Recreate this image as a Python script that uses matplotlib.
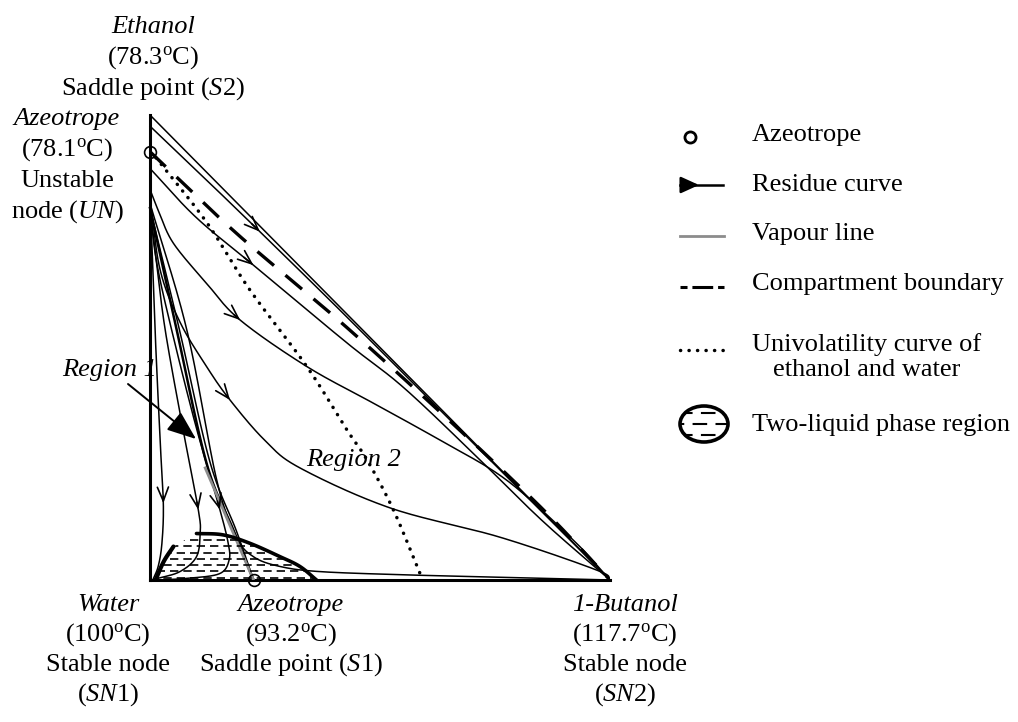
import numpy as np
import matplotlib
matplotlib.use('Agg')
import matplotlib.pyplot as plt
from matplotlib.patches import Polygon, Ellipse

plt.rcParams['font.family'] = ['Liberation Serif', 'DejaVu Serif']
plt.rcParams['mathtext.fontset'] = 'custom'
plt.rcParams['mathtext.rm'] = 'Liberation Serif'
plt.rcParams['mathtext.it'] = 'Liberation Serif:italic'

# composition coordinates: x = 1-butanol fraction, y = ethanol fraction
tri_x = [0.0, 1.0, 0.0]
tri_y = [0.0, 0.0, 1.0]

azeo_x = [0.0, 0.225]
azeo_y = [0.921, 0.0]

curve_a_x = [0.0, 0.123, 0.239, 0.40, 0.55, 0.70, 0.85, 1.0]
curve_a_y = [0.976, 0.860, 0.749, 0.593, 0.445, 0.297, 0.149, 0.0]

curve_b_x = [0.0, 0.10, 0.225, 0.428, 0.55, 0.70, 0.85, 1.0]
curve_b_y = [0.885, 0.78, 0.677, 0.51, 0.415, 0.275, 0.13, 0.0]

curve_c_x = [0.0, 0.02, 0.051, 0.123, 0.196, 0.341, 0.486, 0.630, 0.775, 0.92, 1.0]
curve_c_y = [0.84, 0.79, 0.724, 0.638, 0.559, 0.459, 0.380, 0.301, 0.215, 0.086, 0.0]

curve_d_x = [0.0, 0.022, 0.065, 0.123, 0.174, 0.25, 0.326, 0.522, 0.761, 0.972, 1.0]
curve_d_y = [0.82, 0.667, 0.555, 0.459, 0.387, 0.30, 0.241, 0.155, 0.092, 0.021, 0.0]

curve_e1_x = [0.0, 0.011, 0.022, 0.029, 0.026, 0.018, 0.006]
curve_e1_y = [0.83, 0.538, 0.30, 0.165, 0.08, 0.03, 0.0]

curve_e2_x = [0.0, 0.012, 0.033, 0.072, 0.105, 0.109, 0.101, 0.065, 0.015]
curve_e2_y = [0.80, 0.70, 0.538, 0.323, 0.151, 0.101, 0.05, 0.018, 0.003]

curve_e3_x = [0.0, 0.015, 0.047, 0.10, 0.152, 0.170, 0.172, 0.152, 0.087, 0.02]
curve_e3_y = [0.795, 0.68, 0.538, 0.33, 0.151, 0.079, 0.043, 0.014, 0.004, 0.0]

sep_x = [0.0, 0.058, 0.123, 0.181, 0.225]
sep_y = [0.80, 0.538, 0.251, 0.108, 0.0]
sep2_x = [0.0, 0.064, 0.130, 0.188, 0.225]
sep2_y = [0.80, 0.538, 0.255, 0.105, 0.0]

curve_e5_x = [0.0, 0.08, 0.145, 0.188, 0.225, 0.283, 0.37, 0.558, 0.80, 1.0]
curve_e5_y = [0.81, 0.538, 0.215, 0.093, 0.050, 0.029, 0.018, 0.011, 0.005, 0.0]

boundary_x = [0.0, 0.07, 0.20, 0.413, 0.63, 0.848, 1.0]
boundary_y = [0.921, 0.855, 0.735, 0.556, 0.362, 0.158, 0.0]

univol_x = [0.0, 0.022, 0.124, 0.217, 0.341, 0.428, 0.472, 0.529, 0.587]
univol_y = [0.921, 0.897, 0.768, 0.624, 0.459, 0.323, 0.258, 0.151, 0.014]

vapour_x = [0.12, 0.225]
vapour_y = [0.241, 0.0]

lle_left_x = [0.012, 0.03, 0.051]
lle_left_y = [0.0, 0.04, 0.072]
lle_right_x = [0.101, 0.159, 0.217, 0.283, 0.326, 0.362]
lle_right_y = [0.100, 0.097, 0.079, 0.050, 0.029, 0.0]

top_label = ['Ethanol', '(78.3$^{\\rm o}$C)', 'Saddle point ($\\mathit{S}$2)']
un_label = ['Azeotrope', '(78.1$^{\\rm o}$C)', 'Unstable', 'node ($\\mathit{UN}$)']
water_label = ['Water', '(100$^{\\rm o}$C)', 'Stable node', '($\\mathit{SN}$1)']
s1_label = ['Azeotrope', '(93.2$^{\\rm o}$C)', 'Saddle point ($\\mathit{S}$1)']
butanol_label = ['1-Butanol', '(117.7$^{\\rm o}$C)', 'Stable node', '($\\mathit{SN}$2)']
legend_names = ['Azeotrope', 'Residue curve', 'Vapour line', 'Compartment boundary',
                'Univolatility curve of\nethanol and water', 'Two-liquid phase region']


def smooth(xs, ys, n=30):
    p = np.column_stack([xs, ys])
    p = np.vstack([2 * p[0] - p[1], p, 2 * p[-1] - p[-2]])
    out = []
    t = np.linspace(0, 1, n, endpoint=False)[:, None]
    for i in range(1, len(p) - 2):
        p0, p1, p2, p3 = p[i - 1], p[i], p[i + 1], p[i + 2]
        out.append(0.5 * (2 * p1 + (-p0 + p2) * t + (2 * p0 - 5 * p1 + 4 * p2 - p3) * t ** 2
                          + (-p0 + 3 * p1 - 3 * p2 + p3) * t ** 3))
    out.append(p[-2][None, :])
    return np.vstack(out)


fig = plt.figure(figsize=(10.18, 7.22), dpi=100)
W, H = 1018, 722
x0, x1, y0, y1 = 150, 610, 580, 115
ax = fig.add_axes([x0 / W, (H - y0) / H, (x1 - x0) / W, (y0 - y1) / H])
ax.set_xlim(0, 1)
ax.set_ylim(0, 1)
ax.axis('off')

ov = fig.add_axes([0, 0, 1, 1], zorder=-1)
ov.set_xlim(0, W)
ov.set_ylim(H, 0)
ov.axis('off')

# triangle
ax.plot([tri_x[0], tri_x[1]], [tri_y[0], tri_y[1]], color='k', lw=2.2, clip_on=False, solid_capstyle='projecting')
ax.plot([tri_x[0], tri_x[2]], [tri_y[0], tri_y[2]], color='k', lw=2.2, clip_on=False, solid_capstyle='projecting')
ax.plot([tri_x[1], tri_x[2]], [tri_y[1], tri_y[2]], color='k', lw=1.1, clip_on=False)

head = '->,head_length=0.5,head_width=0.2'


def residue(xs, ys, arrow_knot=None, lw=1.1):
    c = smooth(xs, ys)
    ax.plot(c[:, 0], c[:, 1], color='k', lw=lw, clip_on=False)
    if arrow_knot is not None:
        j = arrow_knot * 30
        ax.annotate('', xy=c[j], xytext=c[j - 4],
                    arrowprops=dict(arrowstyle=head, lw=1.2, color='k',
                                    shrinkA=0, shrinkB=0, mutation_scale=20))


residue(curve_a_x, curve_a_y, 2)
residue(curve_b_x, curve_b_y, 2)
residue(curve_c_x, curve_c_y, 4)
residue(curve_d_x, curve_d_y, 4)
residue(curve_e1_x, curve_e1_y, 3)
residue(curve_e2_x, curve_e2_y, 4)
residue(curve_e3_x, curve_e3_y, 4)
residue(curve_e5_x, curve_e5_y)
residue(sep_x, sep_y, lw=1.8)
residue(sep2_x, sep2_y, lw=1.1)

ax.plot(vapour_x, vapour_y, color='#8c8c8c', lw=2.0)

b = smooth(boundary_x, boundary_y)
ax.plot(b[:, 0], b[:, 1], color='k', lw=2.4, linestyle=(0, (6.5, 4.5)))

u = smooth(univol_x, univol_y)
ax.plot(u[:, 0], u[:, 1], color='k', lw=2.5, linestyle=(0, (0.05, 2.4)), dash_capstyle='round')

# two-liquid region
ll = smooth(lle_left_x, lle_left_y, 10)
lr = smooth(lle_right_x, lle_right_y, 20)
ax.plot(ll[:, 0], ll[:, 1], color='k', lw=3.0, solid_capstyle='round')
ax.plot(lr[:, 0], lr[:, 1], color='k', lw=2.6, solid_capstyle='round')
poly = Polygon(np.vstack([ll, lr, [[lle_left_x[0], 0.0]]]), closed=True, fill=False, lw=0)
ax.add_patch(poly)
for k, lev in enumerate(np.arange(0.005, 0.1, 0.0135)):
    hl = ax.hlines(lev, 0, 0.4, color='k', lw=1.2, linestyle=(k % 2 * 4, (5, 3)))
    hl.set_clip_path(poly)

ax.plot(azeo_x, azeo_y, 'o', ms=8.5, mfc='none', mec='k', mew=1.2, clip_on=False)


# labels
def block(x, ybase, lines, step=30):
    for i, s in enumerate(lines):
        st = 'italic' if i == 0 else 'normal'
        ov.text(x, ybase + i * step, s, ha='center', va='baseline', fontsize=19, style=st)


block(153, 33, top_label, step=31)
block(67, 125, un_label, step=31)
block(108, 611, water_label)
block(291, 611, s1_label)
block(625, 611, butanol_label)

ov.text(354, 466, 'Region 2', ha='center', va='baseline', fontsize=19, style='italic')
ov.text(110, 376, 'Region 1', ha='center', va='baseline', fontsize=19, style='italic')
ov.annotate('', xy=(196, 439), xytext=(128, 384),
            arrowprops=dict(arrowstyle='-|>,head_length=0.9,head_width=0.35', lw=1.4,
                            color='k', shrinkA=0, shrinkB=0, mutation_scale=20))

# legend
tx = 752
ov.plot([690], [137], 'o', ms=8, mfc='none', mec='k', mew=2.0)
ov.plot([680, 723], [185, 185], color='k', lw=1.8)
ov.annotate('', xy=(699, 185), xytext=(684, 185),
            arrowprops=dict(arrowstyle='-|>,head_length=0.55,head_width=0.25', lw=1.8,
                            color='k', shrinkA=0, shrinkB=0, mutation_scale=20))
ov.plot([680, 724], [236, 236], color='#8c8c8c', lw=2.0)
ov.plot([680, 724], [287, 287], color='k', lw=2.2, linestyle=(0, (2.3, 1.6, 6.8, 1.6, 2.3, 30)))
ov.plot([680, 725], [350, 350], color='k', lw=2.5, linestyle=(0, (0.05, 2.4)), dash_capstyle='round')
el = Ellipse((704, 424), 48, 36, fill=False, lw=2.6, color='k')
ov.add_patch(el)
for k, yy in enumerate([413, 424, 435]):
    hl = ov.hlines(yy, 678, 730, color='k', lw=1.5, linestyle=(k % 2 * 4, (7, 4)))
    hl.set_clip_path(el)

ly = [135, 185, 234, 284, 357, 425]
for name, yy in zip(legend_names, ly):
    if '\n' in name:
        ov.text(tx + 115, yy, name, ha='center', va='center', fontsize=19,
                multialignment='center', linespacing=1.15)
    else:
        ov.text(tx, yy, name, ha='left', va='center', fontsize=19)

fig.savefig('out.png', dpi=100)
